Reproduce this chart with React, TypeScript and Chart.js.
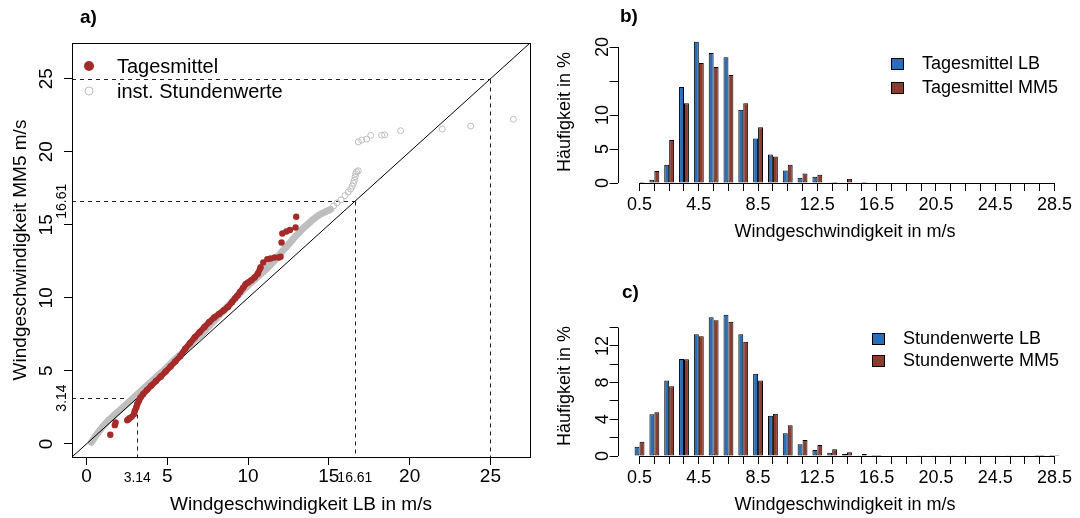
import React, { useEffect, useRef } from 'react';
import { Chart, registerables } from 'chart.js';
Chart.register(...registerables);

const FONT = '"Liberation Sans", Arial, Helvetica, sans-serif';

// ---------- Panel a (QQ plot) ----------
const aAxisLimits = [-0.9, 27.45];
const aTicks = [0, 5, 10, 15, 20, 25];
const aRefValues = [3.14, 16.61, 25];
const aRefLabels = ['3.14', '16.61', ''];

// Tagesmittel (dense band)
const tagesBandX = [2.93, 2.99, 3.08, 3.14, 3.24, 3.34, 3.5, 3.75, 4.0, 4.3, 4.6, 4.9, 5.2, 5.5, 5.8, 6.1, 6.4, 6.7, 7.0, 7.3, 7.6, 7.9, 8.2, 8.5, 8.75, 9.0, 9.2, 9.35, 9.5, 9.7, 9.85, 10.0, 10.2, 10.4, 10.6, 10.77];
const tagesBandY = [2.03, 2.26, 2.49, 2.72, 2.95, 3.17, 3.4, 3.7, 3.98, 4.3, 4.62, 4.95, 5.3, 5.65, 6.0, 6.5, 6.9, 7.3, 7.65, 8.0, 8.35, 8.65, 8.9, 9.15, 9.38, 9.7, 9.98, 10.17, 10.4, 10.7, 10.94, 11.05, 11.2, 11.4, 11.65, 12.08];
// Tagesmittel (separate points)
const tagesDotsX = [1.47, 1.75, 1.8, 2.52, 2.6, 2.66, 2.79, 10.94, 11.19, 11.39, 11.64, 11.91, 12.01, 12.07, 12.12, 12.37, 12.59, 12.94, 12.98];
const tagesDotsY = [0.62, 1.28, 1.46, 1.62, 1.68, 1.76, 1.85, 12.42, 12.65, 12.69, 12.76, 12.76, 12.81, 13.79, 14.4, 14.54, 14.64, 14.82, 15.55];

// inst. Stundenwerte (dense band)
const stundenBandX = [0.3, 0.5, 0.8, 1.1, 1.4, 1.7, 2.0, 2.3, 2.6, 2.9, 3.2, 3.5, 3.8, 4.1, 4.4, 4.7, 5.0, 5.3, 5.6, 5.9, 6.2, 6.5, 6.8, 7.1, 7.4, 7.7, 8.0, 8.3, 8.6, 8.9, 9.2, 9.5, 9.8, 10.1, 10.4, 10.7, 11.0, 11.3, 11.6, 11.9, 12.2, 12.5, 12.8, 13.1, 13.4, 13.7, 14.0, 14.3, 14.6, 14.9, 15.1];
const stundenBandY = [0.1, 0.45, 0.9, 1.3, 1.65, 1.95, 2.25, 2.55, 2.85, 3.15, 3.45, 3.75, 4.05, 4.35, 4.65, 4.95, 5.25, 5.6, 5.9, 6.2, 6.55, 6.85, 7.2, 7.5, 7.85, 8.2, 8.55, 8.9, 9.25, 9.6, 9.95, 10.3, 10.65, 10.95, 11.25, 11.55, 11.85, 12.15, 12.5, 12.9, 13.3, 13.65, 14.05, 14.4, 14.75, 15.05, 15.35, 15.6, 15.8, 15.95, 16.05];
// inst. Stundenwerte (separate circles)
const stundenDotsX = [15.3, 15.5, 15.75, 16.0, 16.2, 16.35, 16.45, 16.52, 16.58, 16.63, 16.66, 16.72, 16.82, 16.82, 17.03, 17.34, 17.59, 18.27, 18.45, 19.44, 22.02, 23.78, 26.42];
const stundenDotsY = [16.3, 16.5, 16.7, 17.0, 17.25, 17.45, 17.65, 17.85, 18.05, 18.3, 18.5, 18.63, 18.7, 20.68, 20.8, 20.87, 21.12, 21.14, 21.16, 21.44, 21.55, 21.76, 22.23];

// ---------- Panels b and c (histograms) ----------
const binLabels = ['0.5', '1.5', '2.5', '3.5', '4.5', '5.5', '6.5', '7.5', '8.5', '9.5', '10.5', '11.5', '12.5', '13.5', '14.5', '15.5', '16.5', '17.5', '18.5', '19.5', '20.5', '21.5', '22.5', '23.5', '24.5', '25.5', '26.5', '27.5', '28.5'];

const tagesLB = [0.05, 0.49, 2.7, 14.1, 20.79, 19.1, 18.5, 10.76, 6.54, 4.18, 1.82, 0.79, 0.93, 0.05, 0, 0.05, 0, 0, 0, 0, 0, 0, 0, 0, 0, 0, 0, 0, 0];
const tagesMM5 = [0.15, 1.77, 6.34, 11.74, 17.64, 17.05, 15.87, 11.74, 8.2, 3.88, 2.7, 1.38, 1.23, 0.15, 0.64, 0.15, 0, 0, 0, 0, 0, 0, 0, 0, 0, 0, 0, 0, 0];
const bYTicks = [0, 5, 10, 15, 20];
const bYTickLabels = ['0', '5', '10', '', '20'];

const stundenLB = [1.02, 4.56, 8.24, 10.58, 13.27, 15.13, 15.39, 13.27, 8.97, 4.38, 2.47, 1.27, 0.65, 0.36, 0.22, 0.07, 0.1, 0.05, 0.05, 0.03, 0.02, 0.03, 0.02, 0.02, 0.02, 0.02, 0.02, 0.01, 0.01];
const stundenMM5 = [1.56, 4.78, 7.59, 10.54, 13.06, 14.8, 14.62, 12.44, 8.24, 4.6, 3.36, 1.75, 1.2, 0.73, 0.4, 0.22, 0.12, 0.06, 0.05, 0.03, 0.03, 0.03, 0.02, 0.02, 0.02, 0.02, 0.02, 0.01, 0.01];
const cYTicks = [0, 2, 4, 6, 8, 10, 12, 14];
const cYTickLabels = ['0', '', '4', '', '8', '', '12', ''];

const RED_PT = '#A52A2A';
const GRAY_PT = '#BEBEBE';
const BLUE_BAR = '#2A6EB8';
const RED_BAR = '#8C3B2F';

function rotText(ctx: CanvasRenderingContext2D, text: string, x: number, y: number, font: string) {
  ctx.save();
  ctx.translate(x, y);
  ctx.rotate(-Math.PI / 2);
  ctx.font = font;
  ctx.fillStyle = '#000';
  ctx.textAlign = 'center';
  ctx.textBaseline = 'middle';
  ctx.fillText(text, 0, 0);
  ctx.restore();
}

function text(ctx: CanvasRenderingContext2D, t: string, x: number, y: number, font: string, align: CanvasTextAlign = 'center') {
  ctx.save();
  ctx.font = font;
  ctx.fillStyle = '#000';
  ctx.textAlign = align;
  ctx.textBaseline = 'middle';
  ctx.fillText(t, x, y);
  ctx.restore();
}

const zip = (xs: number[], ys: number[]) => xs.map((x, i) => ({ x, y: ys[i] }));

function configA(): any {
  const plugin = {
    id: 'panelA',
    beforeDatasetsDraw(chart: any) {
      const { ctx, chartArea: ca, scales } = chart;
      const x = scales.x, y = scales.y;
      ctx.save();
      ctx.strokeStyle = '#222';
      ctx.lineWidth = 1;
      ctx.setLineDash([4, 4]);
      aRefValues.forEach((v) => {
        const px = Math.round(x.getPixelForValue(v)) + 0.5;
        const py = Math.round(y.getPixelForValue(v)) + 0.5;
        ctx.beginPath();
        ctx.moveTo(ca.left, py);
        ctx.lineTo(px, py);
        ctx.stroke();
        ctx.beginPath();
        ctx.moveTo(px, py);
        ctx.lineTo(px, ca.bottom);
        ctx.stroke();
      });
      ctx.restore();
    },
    afterDraw(chart: any) {
      const { ctx, chartArea: ca, scales } = chart;
      const x = scales.x, y = scales.y;
      ctx.save();
      ctx.strokeStyle = '#000';
      ctx.lineWidth = 1;
      ctx.strokeRect(Math.round(ca.left) + 0.5, Math.round(ca.top) + 0.5, Math.round(ca.right - ca.left), Math.round(ca.bottom - ca.top));
      ctx.restore();
      aTicks.forEach((v) => rotText(ctx, String(v), ca.left - 25, y.getPixelForValue(v), `19px ${FONT}`));
      aRefValues.forEach((v, i) => {
        if (!aRefLabels[i]) return;
        rotText(ctx, aRefLabels[i], ca.left - 10, y.getPixelForValue(v), `14px ${FONT}`);
        text(ctx, aRefLabels[i], x.getPixelForValue(v), ca.bottom + 21, `14px ${FONT}`);
      });
      rotText(ctx, 'Windgeschwindigkeit MM5 m/s', 21, (ca.top + ca.bottom) / 2, `19px ${FONT}`);
      text(ctx, 'Windgeschwindigkeit LB in m/s', (ca.left + ca.right) / 2, 505, `19px ${FONT}`);
      text(ctx, 'a)', 80, 18, `bold 19px ${FONT}`, 'left');
      // legend
      ctx.save();
      ctx.fillStyle = RED_PT;
      ctx.beginPath();
      ctx.arc(ca.left + 17, 66, 5, 0, Math.PI * 2);
      ctx.fill();
      ctx.strokeStyle = GRAY_PT;
      ctx.lineWidth = 1;
      ctx.beginPath();
      ctx.arc(ca.left + 17, 91, 4, 0, Math.PI * 2);
      ctx.stroke();
      ctx.restore();
      text(ctx, 'Tagesmittel', ca.left + 45, 67, `20px ${FONT}`, 'left');
      text(ctx, 'inst. Stundenwerte', ca.left + 45, 92, `20px ${FONT}`, 'left');
    },
  };
  return {
    type: 'scatter',
    data: {
      datasets: [
        {
          label: 'Tagesmittel',
          data: zip(tagesDotsX, tagesDotsY),
          showLine: false,
          pointRadius: 3.2,
          pointBackgroundColor: RED_PT,
          pointBorderWidth: 0,
          order: 0,
        },
        {
          label: 'Tagesmittel',
          data: zip(tagesBandX, tagesBandY),
          showLine: true,
          borderColor: RED_PT,
          borderWidth: 6,
          borderCapStyle: 'round',
          borderJoinStyle: 'round',
          pointRadius: 3.2,
          pointBackgroundColor: RED_PT,
          pointBorderWidth: 0,
          order: 1,
        },
        {
          label: 'y = x',
          data: zip(aAxisLimits, aAxisLimits),
          showLine: true,
          borderColor: '#000',
          borderWidth: 1,
          pointRadius: 0,
          order: 2,
        },
        {
          label: 'inst. Stundenwerte',
          data: zip(stundenDotsX, stundenDotsY),
          showLine: false,
          pointRadius: 3,
          pointBackgroundColor: 'rgba(0,0,0,0)',
          pointBorderColor: GRAY_PT,
          pointBorderWidth: 1,
          order: 3,
        },
        {
          label: 'inst. Stundenwerte',
          data: zip(stundenBandX, stundenBandY),
          showLine: true,
          borderColor: GRAY_PT,
          borderWidth: 7,
          borderCapStyle: 'round',
          borderJoinStyle: 'round',
          pointRadius: 0,
          order: 4,
        },
      ],
    },
    options: {
      responsive: false,
      animation: false,
      events: [],
      layout: { autoPadding: false, padding: { left: 0, top: 43, right: 550, bottom: 0 } },
      plugins: { legend: { display: false }, tooltip: { enabled: false } },
      scales: {
        x: {
          type: 'linear',
          min: aAxisLimits[0],
          max: aAxisLimits[1],
          afterBuildTicks: (s: any) => { s.ticks = aTicks.map((v) => ({ value: v })); },
          afterFit: (s: any) => { s.height = 61; },
          border: { display: false },
          grid: { drawOnChartArea: false, drawTicks: true, tickLength: 8, tickColor: '#000' },
          ticks: { color: '#000', font: { family: FONT, size: 19, lineHeight: 1.2 }, padding: 0, maxRotation: 0, autoSkip: false, callback: (v: any) => String(v) },
        },
        y: {
          type: 'linear',
          min: aAxisLimits[0],
          max: aAxisLimits[1],
          afterBuildTicks: (s: any) => { s.ticks = aTicks.map((v) => ({ value: v })); },
          afterFit: (s: any) => { s.width = 72; },
          border: { display: false },
          grid: { drawOnChartArea: false, drawTicks: true, tickLength: 8, tickColor: '#000' },
          ticks: { display: false },
        },
      },
    },
    plugins: [plugin],
  };
}

type BarPanel = {
  tag: string;
  lb: number[];
  mm5: number[];
  legend: string[];
  yTicks: number[];
  yTickLabels: string[];
  yMax: number;
  top: number;
  bottom: number;
  yTitleY: number;
  xTitleY: number;
  tagY: number;
  tagX: number;
  legendX: number;
  legendY: number[];
};

function configBar(p: BarPanel): any {
  const plugin = {
    id: 'panel' + p.tag,
    afterDraw(chart: any) {
      const { ctx, chartArea: ca, scales } = chart;
      const x = scales.x, y = scales.y;
      ctx.save();
      ctx.strokeStyle = '#000';
      ctx.lineWidth = 1;
      const by = Math.round(y.getPixelForValue(0)) + 0.5;
      ctx.beginPath();
      ctx.moveTo(x.getPixelForValue(0), by);
      ctx.lineTo(x.getPixelForValue(binLabels.length - 1), by);
      ctx.stroke();
      const lx = Math.round(ca.left) + 0.5;
      ctx.beginPath();
      ctx.moveTo(lx, y.getPixelForValue(p.yTicks[0]));
      ctx.lineTo(lx, y.getPixelForValue(p.yTicks[p.yTicks.length - 1]));
      ctx.stroke();
      ctx.restore();
      p.yTicks.forEach((v, i) => {
        if (p.yTickLabels[i]) rotText(ctx, p.yTickLabels[i], ca.left - 15, y.getPixelForValue(v), `18px ${FONT}`);
      });
      rotText(ctx, 'Häufigkeit in %', 565, p.yTitleY, `18px ${FONT}`);
      text(ctx, 'Windgeschwindigkeit in m/s', 845, p.xTitleY, `18px ${FONT}`);
      text(ctx, p.tag, p.tagX, p.tagY, `bold 19px ${FONT}`, 'left');
      [BLUE_BAR, RED_BAR].forEach((c, i) => {
        ctx.save();
        ctx.fillStyle = c;
        ctx.strokeStyle = '#000';
        ctx.lineWidth = 1;
        ctx.fillRect(p.legendX, p.legendY[i] - 6, 13, 12);
        ctx.strokeRect(p.legendX + 0.5, p.legendY[i] - 5.5, 12, 11);
        ctx.restore();
        text(ctx, p.legend[i], p.legendX + 31, p.legendY[i], `18px ${FONT}`, 'left');
      });
    },
  };
  return {
    type: 'bar',
    data: {
      datasets: [
        { label: p.legend[0], data: p.lb.map((v, i) => ({ x: i, y: v })), backgroundColor: BLUE_BAR, borderColor: '#000', borderWidth: 1, borderSkipped: false },
        { label: p.legend[1], data: p.mm5.map((v, i) => ({ x: i, y: v })), backgroundColor: RED_BAR, borderColor: '#000', borderWidth: 1, borderSkipped: false },
      ],
    },
    options: {
      responsive: false,
      animation: false,
      events: [],
      categoryPercentage: 2 / 3,
      barPercentage: 1,
      layout: { autoPadding: false, padding: { left: 0, top: p.top, right: 3.6, bottom: 0 } },
      plugins: { legend: { display: false }, tooltip: { enabled: false } },
      scales: {
        x: {
          type: 'linear',
          offset: false,
          min: -1.48,
          max: binLabels.length - 1 + 1.48,
          afterBuildTicks: (s: any) => { s.ticks = binLabels.map((_, i) => ({ value: i })); },
          afterFit: (s: any) => { s.height = 518 - p.bottom; },
          border: { display: false },
          grid: { offset: false, drawOnChartArea: false, drawTicks: true, tickLength: 8, tickColor: '#000' },
          ticks: {
            color: '#000',
            font: { family: FONT, size: 18, lineHeight: 1.2 },
            padding: 3,
            maxRotation: 0,
            autoSkip: false,
            callback: (_v: any, i: number) => (i % 4 === 0 ? binLabels[i] : ''),
          },
        },
        y: {
          type: 'linear',
          min: 0,
          max: p.yMax,
          afterBuildTicks: (s: any) => { s.ticks = p.yTicks.map((v) => ({ value: v })); },
          afterFit: (s: any) => { s.width = 617.6; },
          border: { display: false },
          grid: { drawOnChartArea: false, drawTicks: true, tickLength: 8, tickColor: '#000' },
          ticks: { display: false },
        },
      },
    },
    plugins: [plugin],
  };
}

function ChartCanvas({ make }: { make: () => any }) {
  const ref = useRef<HTMLCanvasElement | null>(null);
  useEffect(() => {
    if (!ref.current) return;
    const c = new Chart(ref.current, make());
    return () => c.destroy();
  }, []);
  return (
    <canvas
      ref={ref}
      width={1080}
      height={518}
      style={{ position: 'absolute', left: 0, top: 0, width: 1080, height: 518 }}
    />
  );
}

export default function App() {
  return (
    <div style={{ position: 'fixed', left: 0, top: 0, width: 1080, height: 518, background: '#fff', overflow: 'hidden' }}>
      <ChartCanvas make={configA} />
      <ChartCanvas
        make={() =>
          configBar({
            tag: 'b)', lb: tagesLB, mm5: tagesMM5, legend: ['Tagesmittel LB', 'Tagesmittel MM5'],
            yTicks: bYTicks, yTickLabels: bYTickLabels, yMax: 22.5, top: 30, bottom: 183,
            yTitleY: 112, xTitleY: 232, tagY: 17, tagX: 620, legendX: 891, legendY: [64, 88],
          })
        }
      />
      <ChartCanvas
        make={() =>
          configBar({
            tag: 'c)', lb: stundenLB, mm5: stundenMM5, legend: ['Stundenwerte LB', 'Stundenwerte MM5'],
            yTicks: cYTicks, yTickLabels: cYTickLabels, yMax: 17.0, top: 300, bottom: 456,
            yTitleY: 386, xTitleY: 505, tagY: 293, tagX: 622, legendX: 872, legendY: [339, 361],
          })
        }
      />
    </div>
  );
}
